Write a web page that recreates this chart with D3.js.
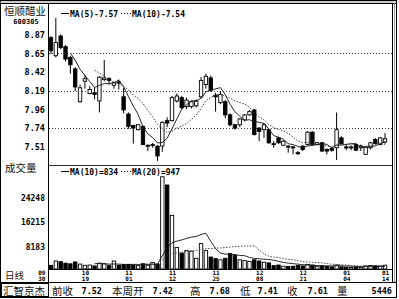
<!DOCTYPE html>
<html>
<head>
<meta charset="utf-8">
<script src="https://cdn.jsdelivr.net/npm/d3@7"></script>
<style>
  body { margin: 0; background: #fff; }
  svg { display: block; }
  .num { font-family: "DejaVu Sans Mono", monospace; font-weight: bold; fill: #000; }
  .cn { font-family: "Noto Sans CJK SC", sans-serif; fill: #111; }
</style>
</head>
<body>
<svg id="chart" width="399" height="299"></svg>
<script>
// daily bars, 70 sessions
const opens = [8.84, 8.62, 8.86, 8.73, 8.60, 8.46, 8.06, 8.31, 8.16, 8.17,
  8.07, 8.33, 8.34, 8.26, 8.30, 8.12, 7.91, 7.77, 7.72, 7.76,
  7.52, 7.53, 7.52, 7.52, 7.83, 7.83, 8.07, 8.11, 8.00, 8.00,
  8.01, 8.12, 8.27, 8.35, 8.14, 8.05, 8.06, 7.90, 7.78, 7.78,
  7.84, 7.90, 7.96, 7.74, 7.72, 7.72, 7.55, 7.62, 7.53, 7.52,
  7.51, 7.44, 7.52, 7.54, 7.69, 7.54, 7.56, 7.48, 7.49, 7.50,
  7.62, 7.51, 7.50, 7.54, 7.50, 7.42, 7.50, 7.60, 7.54, 7.57];
const highs = [8.86, 9.08, 8.88, 8.75, 8.62, 8.48, 8.27, 8.39, 8.25, 8.23,
  8.37, 8.57, 8.36, 8.30, 8.33, 8.23, 7.93, 7.78, 7.79, 7.77,
  7.54, 7.56, 7.53, 7.82, 7.87, 8.13, 8.16, 8.13, 8.11, 8.07,
  8.09, 8.36, 8.40, 8.38, 8.17, 8.19, 8.08, 7.92, 7.79, 7.86,
  7.91, 7.96, 7.97, 7.75, 7.80, 7.73, 7.58, 7.63, 7.59, 7.53,
  7.52, 7.46, 7.53, 7.70, 7.70, 7.57, 7.57, 7.49, 7.51, 7.93,
  7.64, 7.54, 7.53, 7.55, 7.54, 7.52, 7.57, 7.62, 7.63, 7.68];
const lows = [8.64, 8.60, 8.70, 8.55, 8.40, 8.19, 8.05, 8.22, 8.15, 8.09,
  7.93, 8.31, 8.27, 8.22, 8.21, 7.92, 7.73, 7.55, 7.71, 7.53,
  7.46, 7.50, 7.34, 7.45, 7.75, 7.82, 8.05, 7.97, 7.97, 7.98,
  7.99, 8.10, 8.22, 8.18, 7.94, 8.03, 7.86, 7.76, 7.72, 7.75,
  7.82, 7.89, 7.65, 7.58, 7.62, 7.55, 7.50, 7.55, 7.52, 7.44,
  7.42, 7.41, 7.46, 7.53, 7.53, 7.53, 7.45, 7.42, 7.45, 7.35,
  7.54, 7.47, 7.47, 7.46, 7.46, 7.41, 7.48, 7.54, 7.53, 7.55];
const closes = [8.68, 8.78, 8.72, 8.58, 8.51, 8.24, 8.23, 8.34, 8.21, 8.15,
  8.36, 8.35, 8.32, 8.29, 8.29, 7.96, 7.76, 7.74, 7.78, 7.54,
  7.53, 7.54, 7.40, 7.81, 7.80, 8.11, 8.13, 7.99, 8.08, 8.06,
  8.07, 8.32, 8.37, 8.20, 8.12, 8.15, 7.90, 7.78, 7.74, 7.85,
  7.90, 7.94, 7.66, 7.70, 7.78, 7.56, 7.54, 7.56, 7.58, 7.51,
  7.50, 7.43, 7.48, 7.69, 7.54, 7.56, 7.46, 7.46, 7.47, 7.72,
  7.55, 7.50, 7.51, 7.47, 7.52, 7.51, 7.56, 7.55, 7.62, 7.61];
const volumes = [1200, 2600, 2400, 1900, 1700, 2300, 1600, 1200, 1300, 1000,
  1900, 1700, 1100, 2600, 1200, 1400, 1500, 1300, 1100, 1700,
  1200, 2100, 1600, 30100, 27400, 17500, 7000, 5200, 6000, 5800,
  3500, 8300, 6000, 3900, 3400, 3000, 3500, 5000, 4500, 3000,
  2800, 2500, 3000, 2600, 2200, 2000, 1100, 1300, 900, 800,
  900, 1200, 1000, 1500, 1300, 900, 1000, 800, 700, 1300,
  700, 600, 500, 550, 544, 1000, 1150, 1050, 1000, 1246];

const priceTicks = [8.87, 8.65, 8.42, 8.19, 7.96, 7.74, 7.51];
const priceGrid = [8.65, 8.19, 7.74];
const volTicks = [24248, 16215, 8183];
const dateLabels = ["09/30", "10/19", "11/01", "11/12", "11/25", "12/08", "12/21", "01/04", "01/14"];
const dateIndex = [-2, 7, 16, 25, 34, 43, 52, 61, 69];
const footLabels = ["前收", "本周开", "高", "低", "收", "量"];
const footValues = ["7.52", "7.42", "7.68", "7.41", "7.61", "5446"];

const svg = d3.select("#chart");
const plotL = 48, plotR = 392;
const priceTop = 4, priceBot = 165, volBot = 269;

const x = d3.scaleLinear().domain([0, 69]).range([51, 385]);
const yP = d3.scaleLinear().domain([7.29, 9.25]).range([priceBot, priceTop]);
const yV = d3.scaleLinear().domain([0, 33600]).range([volBot, 166]);
const bw = 3.4;

function movingAvg(arr, n) {
  return arr.map((d, i) => (i < n - 1 ? null : d3.mean(arr.slice(i - n + 1, i + 1))));
}

// frame
svg.append("rect").attr("x", 0.5).attr("y", 0.5).attr("width", 396).attr("height", 297)
  .attr("fill", "none").attr("stroke", "#000");
svg.append("line").attr("x1", 0).attr("x2", 396).attr("y1", 3.5).attr("y2", 3.5).attr("stroke", "#000");
svg.append("line").attr("x1", 0).attr("x2", 396).attr("y1", 2).attr("y2", 2).attr("stroke", "#999");
svg.append("line").attr("x1", plotR + 0.5).attr("x2", plotR + 0.5).attr("y1", 3).attr("y2", 282).attr("stroke", "#000");
svg.append("line").attr("x1", plotR + 2.5).attr("x2", plotR + 2.5).attr("y1", 3).attr("y2", 282).attr("stroke", "#999");
svg.append("line").attr("x1", plotL + 0.5).attr("x2", plotL + 0.5).attr("y1", 3).attr("y2", 282).attr("stroke", "#000");
svg.append("line").attr("x1", plotL).attr("x2", plotR).attr("y1", priceBot + 0.5).attr("y2", priceBot + 0.5).attr("stroke", "#333");
svg.append("line").attr("x1", plotL).attr("x2", plotR).attr("y1", volBot + 0.5).attr("y2", volBot + 0.5).attr("stroke", "#000");
svg.append("line").attr("x1", 0).attr("x2", 396).attr("y1", 282.5).attr("y2", 282.5).attr("stroke", "#000");

svg.append("clipPath").attr("id", "pclip").append("rect")
  .attr("x", plotL + 1).attr("y", priceTop).attr("width", plotR - plotL - 1).attr("height", priceBot - priceTop);

// grid
svg.append("g").selectAll("line").data(priceGrid).join("line")
  .attr("x1", plotL + 1).attr("x2", plotR)
  .attr("y1", d => Math.round(yP(d)) + 0.5).attr("y2", d => Math.round(yP(d)) + 0.5)
  .attr("stroke", "#444").attr("stroke-dasharray", "1,2");

// price axis
const pAxis = svg.append("g").attr("transform", "translate(45,0)")
  .call(d3.axisLeft(yP).tickValues(priceTicks).tickFormat(d3.format(".2f")).tickSize(0));
pAxis.select(".domain").remove();
pAxis.selectAll("text").attr("class", "num").attr("x", 0).style("font-size", "8.5px");

// volume axis
const vAxis = svg.append("g").attr("transform", "translate(45,0)")
  .call(d3.axisLeft(yV).tickValues(volTicks).tickFormat(d3.format("d")).tickSize(0));
vAxis.select(".domain").remove();
vAxis.selectAll("text").attr("class", "num").attr("x", 0).attr("dy", "0.32em")
  .attr("transform", "translate(0,3)").style("font-size", "8px");

// date axis: month on top, day below
const dAxis = svg.append("g").attr("transform", `translate(0,${volBot})`)
  .call(d3.axisBottom(x).tickValues(dateIndex).tickSize(0).tickFormat((d, i) => dateLabels[i].split("/")[0]));
dAxis.select(".domain").remove();
dAxis.selectAll("text").attr("class", "num").attr("y", 0).attr("dy", "5.8px")
  .style("font-size", "6px");
dAxis.selectAll(".tick").append("text").attr("class", "num")
  .attr("y", 11.8).attr("text-anchor", "middle")
  .style("font-size", "6px")
  .text((d, i) => dateLabels[i].split("/")[1]);

// candles
const candles = svg.append("g").attr("clip-path", "url(#pclip)");
const idx = d3.range(closes.length);
candles.selectAll("line.wick").data(idx).join("line").attr("class", "wick")
  .attr("x1", i => x(i)).attr("x2", i => x(i))
  .attr("y1", i => yP(highs[i])).attr("y2", i => yP(lows[i]))
  .attr("stroke", "#000").attr("stroke-width", 1);
candles.selectAll("rect.body").data(idx).join("rect").attr("class", "body")
  .attr("x", i => x(i) - bw / 2)
  .attr("y", i => yP(Math.max(opens[i], closes[i])))
  .attr("width", bw)
  .attr("height", i => Math.max(1, Math.abs(yP(opens[i]) - yP(closes[i]))))
  .attr("fill", i => (closes[i] >= opens[i] ? "#fff" : "#000"))
  .attr("stroke", "#000").attr("stroke-width", 0.9);

// price MAs
const ma5 = movingAvg(closes, 5), ma10 = movingAvg(closes, 10);
const pLine = d3.line().defined(d => d != null).x((d, i) => x(i)).y(d => yP(d));
candles.append("path").attr("d", pLine(ma5)).attr("fill", "none").attr("stroke", "#111").attr("stroke-width", 0.9);
candles.append("path").attr("d", pLine(ma10)).attr("fill", "none").attr("stroke", "#333")
  .attr("stroke-width", 0.9).attr("stroke-dasharray", "1.5,1.5");

// volume bars
svg.append("g").selectAll("rect").data(idx).join("rect")
  .attr("x", i => x(i) - bw / 2)
  .attr("y", i => yV(volumes[i]))
  .attr("width", bw)
  .attr("height", i => yV(0) - yV(volumes[i]))
  .attr("fill", i => (closes[i] >= opens[i] ? "#fff" : "#000"))
  .attr("stroke", "#000").attr("stroke-width", 0.9);

const vma10 = movingAvg(volumes, 10), vma20 = movingAvg(volumes, 20);
const vLine = d3.line().defined(d => d != null).x((d, i) => x(i)).y(d => yV(d));
svg.append("path").attr("d", vLine(vma10)).attr("fill", "none").attr("stroke", "#111").attr("stroke-width", 0.9);
svg.append("path").attr("d", vLine(vma20)).attr("fill", "none").attr("stroke", "#333")
  .attr("stroke-width", 0.9).attr("stroke-dasharray", "1.5,1.5");

// legends
function legend(y, a, b) {
  svg.append("line").attr("x1", 61).attr("x2", 69).attr("y1", y - 3).attr("y2", y - 3).attr("stroke", "#000");
  svg.append("text").attr("class", "num").attr("x", 70).attr("y", y).style("font-size", "8px").text(a);
  svg.append("line").attr("x1", 121).attr("x2", 131).attr("y1", y - 3).attr("y2", y - 3)
    .attr("stroke", "#000").attr("stroke-dasharray", "1,2");
  svg.append("text").attr("class", "num").attr("x", 132).attr("y", y).style("font-size", "8px").text(b);
}
legend(16.5, "MA(5)-7.57", "MA(10)-7.54");
legend(174.5, "MA(10)=834", "MA(20)=947");

// left labels
svg.append("text").attr("class", "cn").attr("x", 4).attr("y", 14.5).style("font-size", "10.5px").text("恒顺醋业");
svg.append("text").attr("class", "num").attr("x", 26).attr("y", 23.5).attr("text-anchor", "middle")
  .style("font-size", "7px").text("600305");
svg.append("text").attr("class", "cn").attr("x", 5).attr("y", 172).style("font-size", "10.5px").text("成交量");
svg.append("text").attr("class", "cn").attr("x", 5).attr("y", 279).style("font-size", "9.5px").text("日线");

// footer
svg.append("rect").attr("x", 1.5).attr("y", 283.5).attr("width", 47).attr("height", 13)
  .attr("fill", "none").attr("stroke", "#000");
svg.append("text").attr("class", "cn").attr("x", 3).attr("y", 294.5).style("font-size", "10.5px").text("汇智京杰");
const labelX = [52, 112, 190, 240, 287, 337];
const valueX = [102, 173, 230, 278, 328, 392];
footLabels.forEach((s, i) => {
  svg.append("text").attr("class", "cn").attr("x", labelX[i]).attr("y", 294.5).style("font-size", "10.5px").text(s);
  svg.append("text").attr("class", "num").attr("x", valueX[i]).attr("y", 293.5)
    .attr("text-anchor", "end").style("font-size", "8.5px").text(footValues[i]);
});
</script>
</body>
</html>
